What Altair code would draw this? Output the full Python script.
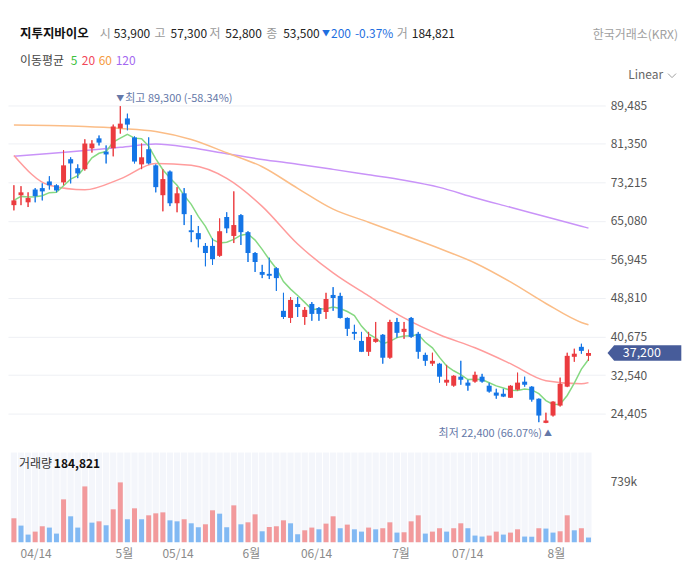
import altair as alt
import pandas as pd

# ---------------- data ----------------
opens = [68400, 70500, 69000, 71700, 72000, 73400, 72600, 73200, 78100, 76200,
         76000, 80400, 82500, 79700, 80400, 84600, 86700, 82700, 77000, 80200,
         76800, 70500, 75500, 68800, 70900, 63100, 62500, 59800, 59800, 57700,
         65900, 61900, 66300, 62700, 58300, 54300, 53900, 55100, 46100, 44600,
         47550, 44800, 47550, 46700, 45850, 49450, 49250, 44600, 41650, 39750,
         37450, 39550, 41050, 36200, 43750, 41650, 44600, 41250, 36800, 34950,
         34950, 30950, 30300, 32200, 30950, 31150, 32200, 30300, 28850, 28600,
         27750, 29450, 31150, 30100, 27550, 22450, 24000, 26100, 30100, 36400,
         38500, 36600]
highs = [72600, 72400, 71100, 72000, 73000, 74500, 72800, 80000, 78500, 77000,
         82300, 82100, 83100, 81000, 85400, 89300, 87700, 82900, 81400, 82700,
         77000, 76000, 75700, 72200, 72000, 66300, 64000, 60400, 61400, 65600,
         66900, 71300, 66500, 62900, 58500, 55800, 57300, 55300, 49900, 49000,
         49000, 46900, 47950, 46900, 49900, 51100, 49900, 44700, 43150, 41650,
         41650, 43750, 41200, 44200, 44600, 43750, 44800, 41650, 37250, 37250,
         35100, 34700, 32500, 35550, 31550, 33250, 32800, 30950, 29650, 29650,
         30400, 33050, 32200, 30200, 27600, 24600, 27000, 32000, 37250, 38100,
         39150, 37900]
lows = [67300, 68400, 68000, 69000, 69400, 71700, 71100, 72600, 73000, 74100,
        75700, 79500, 81000, 77200, 78700, 83500, 84200, 77200, 76000, 77000,
        71100, 67100, 68200, 66900, 64200, 60600, 59500, 55500, 55800, 57500,
        62500, 60400, 60000, 56400, 54300, 53000, 52800, 50300, 44400, 43550,
        44800, 43150, 44000, 44000, 44400, 46100, 44500, 40800, 40000, 37400,
        36600, 39400, 34950, 36000, 40400, 40200, 40400, 36000, 34500, 34500,
        30950, 30300, 30100, 30500, 29250, 30950, 30950, 28850, 27550, 27900,
        27700, 29250, 30100, 26950, 22600, 22400, 23800, 25900, 30000, 35350,
        37050, 35550]
closes = [69400, 71100, 69900, 70300, 71300, 72600, 71500, 76800, 77200, 75100,
          81400, 81400, 81600, 79100, 85000, 85600, 85400, 77600, 78500, 77200,
          72200, 73900, 68800, 70900, 66500, 62700, 61200, 58300, 57000, 62900,
          63500, 64200, 62700, 58300, 56400, 53700, 53500, 53000, 44800, 48400,
          46900, 46300, 45450, 45450, 48600, 48800, 44600, 42300, 41250, 37450,
          40600, 40200, 36200, 43750, 41450, 42300, 40600, 37450, 35550, 35550,
          32200, 31550, 32400, 31550, 30300, 32600, 31150, 29050, 28200, 28000,
          30300, 30950, 30500, 27350, 24000, 22950, 26950, 30700, 36600, 37050,
          37650, 37200]
volumes = [291000, 202000, 93000, 129000, 194000, 178000, 105000, 521000, 315000, 178000,
           678000, 238000, 254000, 206000, 400000, 727000, 279000, 412000, 279000, 327000,
           351000, 363000, 266000, 254000, 279000, 230000, 182000, 218000, 388000, 347000,
           182000, 448000, 218000, 242000, 339000, 133000, 184821, 194000, 266000, 230000,
           97000, 145000, 178000, 157000, 226000, 315000, 170000, 214000, 157000, 129000,
           178000, 157000, 170000, 242000, 117000, 121000, 254000, 327000, 105000, 129000,
           170000, 129000, 170000, 230000, 170000, 81000, 69000, 81000, 129000, 93000,
           117000, 157000, 69000, 67000, 170000, 166000, 117000, 133000, 327000, 145000,
           170000, 57000]

tick_pos = [3.06, 15.5, 23.07, 33.4, 42.6, 54.5, 63.9, 76.4]
tick_labels = ["04/14", "5월", "05/14", "6월", "06/14", "7월", "07/14", "8월"]

price_ticks = [24405, 32540, 40675, 48810, 56945, 65080, 73215, 81350, 89485]
vol_ticks = [739000]

ma_idx = [0, 5, 10, 15, 20, 25, 30, 35, 40, 45, 50, 55, 60, 65, 70, 75, 80, 81]
ma20 = [78900, 72600, 71650, 73950, 77200, 76800, 74050, 68150, 60200, 54100,
        49250, 44600, 41050, 38300, 34950, 31350, 30700, 30950]
ma60 = [85300, 85200, 85000, 84600, 83950, 82250, 79450, 76500, 71950, 67550,
        64800, 62050, 59250, 56200, 52200, 47650, 43650, 43150]
ma120 = [78700, 79300, 79950, 80600, 81300, 80500, 79250, 78050, 77050, 75950,
         74800, 73650, 72150, 69950, 67950, 65950, 63950, 63550]

stock_name = "지투지바이오"
exchange = "한국거래소(KRX)"
sel = 36          # the day shown in the header
hi_idx, lo_idx = 15, 75

# ---------------- tables ----------------
n = len(closes)
idx = list(range(n))
candles = pd.DataFrame({"i": idx, "open": opens, "high": highs, "low": lows, "close": closes})
candles["dir"] = ["up" if c >= o else "down" for o, c in zip(opens, closes)]
vol = pd.DataFrame({"i": idx, "volume": volumes})
vol["vdir"] = ["vup" if k == 0 or volumes[k] >= volumes[k - 1] else "vdown" for k in idx]
ma20_df = pd.DataFrame({"i": ma_idx, "value": ma20})
ma60_df = pd.DataFrame({"i": ma_idx, "value": ma60})
ma120_df = pd.DataFrame({"i": ma_idx, "value": ma120})

last = closes[-1]
hi_val, lo_val = highs[hi_idx], lows[lo_idx]
hi_txt = f"최고 {hi_val:,} ({(last - hi_val) / hi_val * 100:.2f}%)"
lo_txt = f"최저 {lo_val:,} ({(last - lo_val) / lo_val * 100:.2f}%)"
chg = closes[sel] - closes[sel - 1]
chg_pct = chg / closes[sel - 1] * 100

# ---------------- styles ----------------
FONT = "Noto Sans CJK KR"
W = 599
PH = 359
VH = 90
xs = alt.Scale(domain=[-0.832, 83.36], nice=False, zero=False)
ys = alt.Scale(domain=[17044, 92578], nice=False, zero=False)
vs = alt.Scale(domain=[0, 1090000], nice=False, zero=True)
ccol = alt.Scale(domain=["up", "down"], range=["#eb3b3f", "#1475e6"])
vcol = alt.Scale(domain=["vup", "vdown"], range=["#f29a9c", "#82b9f3"])

dummy = pd.DataFrame({"k": [0]})


def txt(s, x, y, color, size=12, weight="normal", align="left"):
    return alt.Chart(dummy).mark_text(
        text=s, align=align, baseline="middle", fontSize=size,
        fontWeight=weight, color=color, font=FONT
    ).encode(x=alt.value(x), y=alt.value(y))


# ---------------- header ----------------
LBL = "#9a9a9a"
VAL = "#222222"
BLUE = "#1f6fe0"
hy = 25
header = alt.layer(
    txt(stock_name, 12, hy, "#111111", 12.5, "bold"),
    txt("시", 92, hy, LBL), txt(f"{opens[sel]:,}", 106, hy, VAL),
    txt("고", 147, hy, LBL), txt(f"{highs[sel]:,}", 163, hy, VAL),
    txt("저", 202, hy, LBL), txt(f"{lows[sel]:,}", 218, hy, VAL),
    txt("종", 259, hy, LBL), txt(f"{closes[sel]:,}", 276, hy, VAL),
    txt("▼" if chg < 0 else "▲", 315, hy, BLUE, 8),
    txt(f"{abs(chg):,}", 324, hy, BLUE), txt(f"{chg_pct:.2f}%", 348, hy, BLUE),
    txt("거", 390, hy, LBL), txt(f"{volumes[sel]:,}", 405, hy, VAL),
    txt(exchange, 672, hy + 1, "#a0a0a0", 12, align="right"),
    txt("이동평균", 12, 52, "#444444"),
    txt("5", 63, 52, "#3cc13c"), txt("20", 74, 52, "#f2475a"),
    txt("60", 91, 52, "#f59b3d"), txt("120", 108, 52, "#a468f0"),
    txt("Linear", 622, 66, "#666666"),
    alt.Chart(dummy).mark_point(
        shape="M-1,-0.5 L0,0.5 L1,-0.5", size=64, filled=False,
        strokeWidth=1, color="#777777"
    ).encode(x=alt.value(666), y=alt.value(67)),
).properties(width=674, height=82)

# ---------------- price panel ----------------
X = alt.X("i:Q", scale=xs, axis=None, title=None)


def ma_line(df, color):
    return alt.Chart(df).mark_line(strokeWidth=1.5, interpolate="monotone", color=color).encode(
        x=X, y=alt.Y("value:Q", scale=ys, title=None))


ma5_line = alt.Chart(candles).transform_window(
    ma5="mean(close)", frame=[-4, 0], sort=[alt.SortField("i")]
).mark_line(strokeWidth=1.5, color="#86d982").encode(
    x=X, y=alt.Y("ma5:Q", scale=ys, title=None)
)

wicks = alt.Chart(candles).mark_rule(strokeWidth=1).encode(
    x=X,
    y=alt.Y("low:Q", scale=ys, title=None,
            axis=alt.Axis(orient="right", values=price_ticks, format=",d", grid=True,
                          gridColor="#eef0f4", gridWidth=1, ticks=False, domain=False,
                          labelPadding=5, labelColor="#555555", labelFontSize=12,
                          labelFont=FONT, title=None)),
    y2=alt.Y2("high:Q"),
    color=alt.Color("dir:N", scale=ccol, legend=None),
)
bodies = alt.Chart(candles).mark_rule(strokeWidth=5).encode(
    x=X,
    y=alt.Y("open:Q", scale=ys, title=None),
    y2=alt.Y2("close:Q"),
    color=alt.Color("dir:N", scale=ccol, legend=None),
)

hi_df = pd.DataFrame({"i": [hi_idx], "p": [hi_val], "t": [hi_txt]})
lo_df = pd.DataFrame({"i": [lo_idx], "p": [lo_val], "t": [lo_txt]})
ANN = "#6478a8"
hi_tri = alt.Chart(hi_df).mark_text(text="▼", fontSize=8, color=ANN, dx=0, dy=-7,
                                    baseline="middle", font=FONT).encode(
    x=X, y=alt.Y("p:Q", scale=ys, title=None))
hi_lab = alt.Chart(hi_df).mark_text(align="left", fontSize=11, color=ANN,
                                    dx=5, dy=-7, baseline="middle", font=FONT).encode(
    x=X, y=alt.Y("p:Q", scale=ys, title=None), text="t:N")
lo_tri = alt.Chart(lo_df).mark_text(text="▲", fontSize=8, color=ANN, dx=2, dy=11,
                                    baseline="middle", font=FONT).encode(
    x=X, y=alt.Y("p:Q", scale=ys, title=None))
lo_lab = alt.Chart(lo_df).mark_text(align="right", fontSize=11, color=ANN,
                                    dx=-4, dy=11, baseline="middle", font=FONT).encode(
    x=X, y=alt.Y("p:Q", scale=ys, title=None), text="t:N")

last_df = pd.DataFrame({"p": [last], "t": [f"{last:,}"]})
tag = alt.Chart(last_df).mark_point(
    shape="M-1,0 L-0.82,-0.207 L1,-0.207 L1,0.207 L-0.82,0.207 Z",
    size=5476, filled=True, opacity=1, strokeWidth=0, color="#475c9a"
).encode(x=alt.value(638.3), y=alt.Y("p:Q", scale=ys, title=None))
tag_txt = alt.Chart(last_df).mark_text(
    fontSize=12.5, color="white", baseline="middle", align="center", font=FONT
).encode(x=alt.value(635.7), y=alt.Y("p:Q", scale=ys, title=None), text="t:N")

price = alt.layer(
    wicks,
    ma_line(ma120_df, "#c993f8"), ma_line(ma60_df, "#fbbd87"), ma_line(ma20_df, "#ff9c9c"),
    ma5_line, wicks, bodies,
    hi_tri, hi_lab, lo_tri, lo_lab, tag, tag_txt
).properties(width=W, height=PH)

# ---------------- volume panel ----------------
lab_expr = "[" + ",".join(f"'{t}'" for t in tick_labels) + "][indexof([" + \
    ",".join(str(p) for p in tick_pos) + "], datum.value)]"
XV = alt.X("i:Q", scale=xs, title=None,
           axis=alt.Axis(values=tick_pos, labelExpr=lab_expr, ticks=False, domain=False,
                         grid=False, labelColor="#8a8a8a", labelFontSize=12,
                         labelPadding=6, labelFont=FONT, labelFlush=False,
                         labelOverlap=False, title=None))
stripes = alt.Chart(vol).mark_rule(strokeWidth=6.2, color="#f4f6fb").encode(
    x=XV, y=alt.value(0), y2=alt.value(VH))
vbars = alt.Chart(vol).mark_rule(strokeWidth=5).encode(
    x=alt.X("i:Q", scale=xs, title=None),
    y=alt.Y("volume:Q", scale=vs, title=None,
            axis=alt.Axis(orient="right", values=vol_ticks,
                          labelExpr="format(datum.value / 1000, 'd') + 'k'", grid=False,
                          ticks=False, domain=False, labelPadding=5,
                          labelColor="#555555", labelFontSize=12, labelFont=FONT,
                          title=None)),
    y2=alt.Y2(datum=0),
    color=alt.Color("vdir:N", scale=vcol, legend=None),
)
volume = alt.layer(
    stripes, vbars,
    txt("거래량", 11, 12, "#333333"),
    txt(f"{volumes[sel]:,}", 46, 12, "#111111", 12, "bold"),
).properties(width=W, height=VH)

chart = alt.vconcat(header, price, volume, spacing=0).resolve_scale(
    color="independent"
).properties(padding=0).configure(font=FONT).configure_view(stroke=None)

chart.save("out.html", embed_options={"renderer": "svg", "actions": False})
